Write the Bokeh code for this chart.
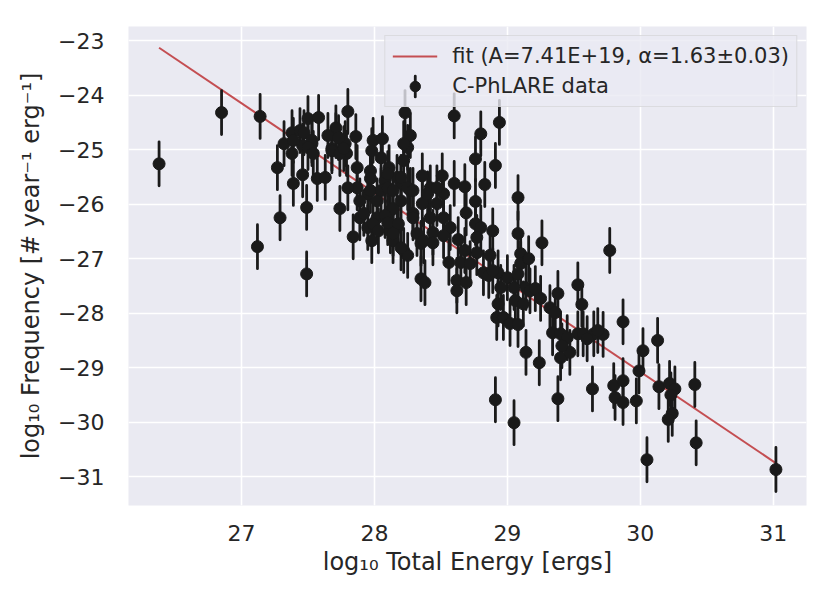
import numpy as np
from bokeh.plotting import figure
from bokeh.models import Range1d, Legend, LegendItem, ColumnDataSource, FixedTicker
from bokeh.embed import file_html
from bokeh.resources import INLINE

# ---- data (log10 total energy, log10 frequency) ----
energy = [
    26.38, 26.85, 27.14, 27.12, 27.29, 27.49, 27.27, 27.49,
    27.32, 27.38, 27.44, 27.50, 27.58, 27.38, 27.46, 27.53, 27.39, 27.46,
    27.57, 27.63, 27.68, 27.71, 27.71, 27.80, 27.78, 27.79, 27.86, 27.87,
    27.74, 27.84, 27.87, 27.47, 27.53, 27.68, 27.74, 27.80, 27.50, 27.54,
    27.39, 27.65, 27.73, 27.77,
    27.95, 27.97, 27.99, 28.06, 28.23, 28.27, 28.25, 28.22, 28.02, 28.12,
    28.17, 28.22, 28.27, 27.89, 27.95, 27.97, 27.92, 28.02, 28.14, 27.99,
    28.14, 28.22, 28.08, 28.20, 28.08, 28.12, 27.98, 28.25, 28.10, 28.18,
    28.05, 27.98, 28.05, 28.11, 28.17, 27.97, 28.10, 27.89, 28.03, 28.20,
    28.60, 28.80, 28.94, 28.76, 28.91, 28.83, 29.08, 28.60, 28.68, 28.76,
    28.69, 28.36, 28.51, 28.42, 28.25, 28.14, 28.52, 28.36, 28.47, 28.29,
    28.32, 28.44, 28.57, 28.52, 28.63, 28.76, 28.80, 28.89, 28.77, 28.35,
    28.68, 28.77, 28.56, 28.65, 28.72, 28.87, 28.82, 28.93, 29.00, 28.35,
    28.62, 29.08, 29.10, 29.10, 28.95, 28.93, 28.92, 28.97, 29.02, 29.08,
    29.16, 29.08, 29.05, 29.06, 29.14, 29.17, 29.21, 29.25, 29.12, 29.14,
    29.24, 28.91, 29.05, 28.62, 28.69, 28.86, 28.38, 29.26,
    28.10, 28.20, 28.29, 28.40, 28.47, 28.20, 28.29, 28.42, 28.52, 28.14,
    28.37, 28.44, 28.89,
    29.77, 29.38, 29.32, 29.36, 29.34, 29.40, 29.45, 29.40, 29.47, 29.53,
    29.53, 29.56, 29.57, 29.65, 29.72, 29.68, 29.38, 29.64, 29.80, 29.81,
    29.87, 30.02, 30.13, 29.99, 29.87, 29.87, 29.97, 30.14, 30.22, 30.26,
    30.23, 30.24, 30.21, 30.41, 30.42, 30.05, 31.02, 29.60, 29.41,
]
frequency = [
    -25.26, -24.32, -24.39, -26.78, -26.25, -27.28, -25.33, -26.06,
    -24.89, -24.69, -24.65, -24.43, -24.41, -25.07, -24.93, -24.89, -25.62, -25.46,
    -25.53, -25.51, -24.98, -24.74, -24.60, -24.30, -24.89, -25.07, -24.76, -25.33,
    -26.08, -26.60, -25.70, -24.69, -24.83, -25.02, -25.07, -25.70, -24.96, -25.07,
    -24.83, -24.74, -24.78, -24.98,
    -25.81, -25.39, -24.83, -24.80, -24.32, -24.74, -24.96, -25.20, -26.25, -26.12,
    -26.43, -26.85, -25.75, -26.25, -26.43, -25.75, -26.17, -25.94, -26.08, -26.36,
    -26.67, -24.89, -25.57, -25.62, -26.21, -26.49, -26.67, -26.94, -26.34, -26.36,
    -25.75, -25.02, -25.15, -25.33, -25.51, -25.53, -25.70, -25.94, -26.49, -26.80,
    -24.38, -24.71, -24.50, -25.17, -25.29, -25.64, -25.88, -25.62, -25.68, -25.95,
    -26.16, -25.48, -25.48, -25.70, -25.70, -25.75, -25.81, -25.99, -25.99, -26.17,
    -26.54, -26.52, -26.43, -26.58, -26.65, -26.36, -26.43, -26.49, -26.61, -26.72,
    -26.85, -26.89, -27.07, -27.07, -27.09, -26.94, -27.26, -27.26, -27.35, -27.37,
    -27.40, -26.54, -26.91, -27.09, -27.53, -27.83, -28.08, -28.08, -28.19, -28.21,
    -27.00, -27.28, -27.53, -27.77, -27.53, -27.59, -27.55, -27.73, -27.83, -28.72,
    -28.91, -29.59, -30.01, -27.59, -27.44, -27.31, -27.44, -26.71,
    -25.44, -25.51, -25.75, -25.81, -25.70, -25.94, -26.25, -26.25, -26.25, -26.54,
    -26.67, -26.71, -27.22,
    -26.85, -27.64, -27.90, -27.99, -28.36, -28.38, -28.45, -28.82, -28.72, -28.38,
    -27.48, -27.84, -28.38, -28.38, -28.39, -28.32, -29.57, -29.39, -29.33, -29.55,
    -28.16, -28.69, -28.50, -29.06, -29.24, -29.64, -29.61, -29.35, -29.29, -29.39,
    -29.50, -29.84, -29.95, -29.31, -30.38, -30.69, -30.87, -28.47, -28.60,
]
freq_err = 0.40

fit_x = [26.38, 31.03]
fit_y = [-23.13, -30.77]

x_ticks = [27, 28, 29, 30, 31]
y_ticks = [-31, -30, -29, -28, -27, -26, -25, -24, -23]

fit_label = "fit (A=7.41E+19, \u03b1=1.63\u00b10.03)"
data_label = "C-PhLARE data"
x_label = "log\u2081\u2080 Total Energy [ergs]"
y_label = "log\u2081\u2080 Frequency [# year\u207b\u00b9 erg\u207b\u00b9]"

# ---- figure ----
FONT = "DejaVu Sans"
BG = "#EAEAF2"
TXT = "#262626"
PT = "#1a1a1a"
RED = "#C44E52"

p = figure(width=820, height=593, output_backend="svg", toolbar_location=None,
           x_range=Range1d(26.15, 31.25), y_range=Range1d(-31.53, -22.74),
           min_border_left=128, min_border_right=14, min_border_top=26,
           min_border_bottom=88)
p.background_fill_color = BG
p.border_fill_color = "white"
p.outline_line_color = None

for ax in (p.xaxis[0], p.yaxis[0]):
    ax.axis_line_color = None
    ax.major_tick_line_color = None
    ax.minor_tick_line_color = None
    ax.major_label_text_font = FONT
    ax.major_label_text_font_size = "22px"
    ax.major_label_text_color = TXT
    ax.axis_label_text_font = FONT
    ax.axis_label_text_font_size = "24px"
    ax.axis_label_text_font_style = "normal"
    ax.axis_label_text_color = TXT

p.xaxis.ticker = FixedTicker(ticks=x_ticks)
p.yaxis.ticker = FixedTicker(ticks=y_ticks)
p.yaxis.major_label_overrides = {t: "\u2212" + str(abs(t)) for t in y_ticks}
p.xaxis.axis_label = x_label
p.yaxis.axis_label = y_label
p.xaxis.major_label_standoff = 13
p.yaxis.major_label_standoff = 18
p.xaxis.axis_label_standoff = 4
p.yaxis.axis_label_standoff = 10

p.grid.grid_line_color = "white"
p.grid.grid_line_width = 1.6
p.xgrid.ticker = FixedTicker(ticks=x_ticks)
p.ygrid.ticker = FixedTicker(ticks=y_ticks)

src = ColumnDataSource(dict(
    x=energy, y=frequency,
    lo=[v - freq_err for v in frequency],
    hi=[v + freq_err for v in frequency],
))

fit_r = p.line(fit_x, fit_y, line_color=RED, line_width=2)
# error bars drawn as zero-width ellipses spanning +/- err (gives a vertical legend bar)
bars = p.ellipse(x="x", y="y", width=1e-5, height=2 * freq_err, source=src,
                 fill_color=None, line_color=PT, line_width=2.8)
pts = p.scatter("x", "y", source=src, size=12, marker="circle",
                fill_color=PT, line_color=PT)

legend = Legend(items=[
    LegendItem(label=fit_label, renderers=[fit_r]),
    LegendItem(label=data_label, renderers=[bars, pts]),
], location="top_right")
legend.label_text_font = FONT
legend.label_text_font_size = "21px"
legend.label_text_color = TXT
legend.glyph_width = 45
legend.glyph_height = 26
legend.label_height = 26
legend.label_standoff = 15
legend.spacing = 4
legend.padding = 7
legend.margin = 9
legend.background_fill_color = BG
legend.background_fill_alpha = 0.8
legend.border_line_color = "#cccccc"
legend.border_line_width = 1.2
p.add_layout(legend)

open("out.html", "w").write(file_html(p, INLINE))
